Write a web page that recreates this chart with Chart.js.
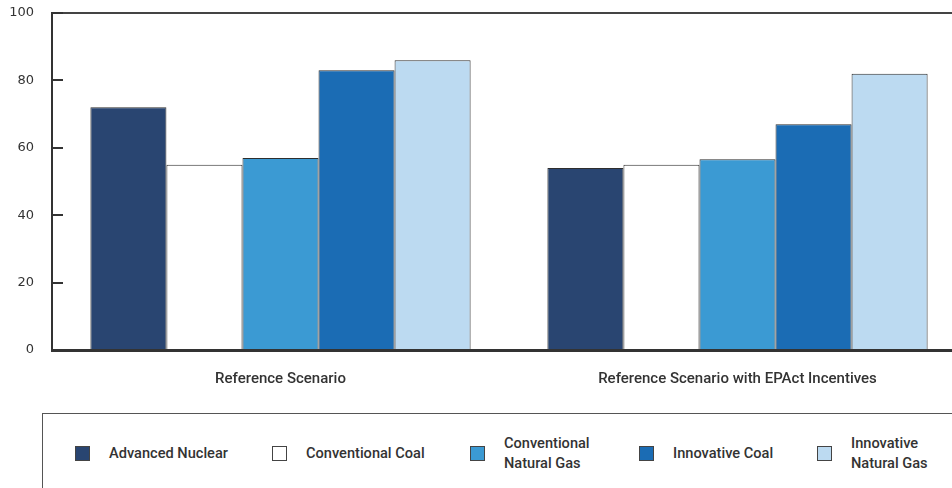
<!DOCTYPE html>
<html>
<head>
<meta charset="utf-8">
<script src="https://cdn.jsdelivr.net/npm/chart.js@4"></script>
<style>
  html, body { margin: 0; padding: 0; background: #fff; }
  .wrap { position: relative; width: 952px; height: 488px; overflow: hidden; }
  #costChart { position: absolute; left: 0; top: 0; }
  .legend-box {
    position: absolute; left: 42px; top: 413px; width: 1000px; height: 120px;
    border-top: 1px solid #555; border-left: 1px solid #555;
  }
  .legend-item { position: absolute; top: 0; height: 78px; display: flex; align-items: center; }
  .swatch { width: 13px; height: 13px; border: 1px solid #444; margin-right: 19px; }
  .legend-text {
    font-family: Roboto, sans-serif; font-weight: 500; font-size: 14.6px;
    line-height: 20px; color: #333;
  }
</style>
</head>
<body>
<div class="wrap">
  <canvas id="costChart" width="975" height="400"></canvas>
  <div class="legend-box" id="legend"></div>
</div>
<script>
const scenarios = ["Reference Scenario", "Reference Scenario with EPAct Incentives"];
const seriesNames = [
  ["Advanced Nuclear"],
  ["Conventional Coal"],
  ["Conventional", "Natural Gas"],
  ["Innovative Coal"],
  ["Innovative", "Natural Gas"]
];
const advancedNuclear = [72, 54];
const conventionalCoal = [55, 55];
const conventionalGas = [57, 56.6];
const innovativeCoal = [83, 67];
const innovativeGas = [86, 82];
const yTicks = [0, 20, 40, 60, 80, 100];

const seriesValues = [advancedNuclear, conventionalCoal, conventionalGas, innovativeCoal, innovativeGas];
const seriesColors = ["#294571", "#ffffff", "#3b9ad3", "#1b6cb4", "#bcdaf1"];
// left offsets of the legend entries inside the box
const legendLeft = [32, 229, 427, 596, 774];

// short tick marks drawn inside the plot, to the right of the y axis
const innerTicks = {
  id: "innerTicks",
  afterDraw(chart) {
    const { ctx, chartArea, scales } = chart;
    ctx.save();
    ctx.strokeStyle = "#333";
    ctx.lineWidth = 2;
    scales.y.ticks.forEach(t => {
      const y = Math.round(scales.y.getPixelForValue(t.value));
      ctx.beginPath();
      ctx.moveTo(chartArea.left, y);
      ctx.lineTo(chartArea.left + 11, y);
      ctx.stroke();
    });
    ctx.restore();
  }
};

new Chart(document.getElementById("costChart"), {
  type: "bar",
  data: {
    labels: scenarios,
    datasets: seriesNames.map((name, i) => ({
      label: name.join(" "),
      data: seriesValues[i],
      backgroundColor: seriesColors[i],
      borderColor: "#2e2e2e",
      borderWidth: 1,
      barPercentage: 1,
      categoryPercentage: 0.832
    }))
  },
  options: {
    responsive: false,
    animation: false,
    layout: { padding: { left: 0, right: 9, top: 13, bottom: 0 } },
    plugins: { legend: { display: false }, tooltip: { enabled: false } },
    scales: {
      x: {
        grid: { display: false, drawTicks: false },
        border: { color: "#333", width: 3 },
        ticks: {
          padding: 20,
          color: "#333",
          font: { family: "Roboto", weight: "500", size: 15 }
        },
        afterFit: s => { s.height = 50; }
      },
      y: {
        min: 0,
        max: 100,
        afterBuildTicks: s => { s.ticks = yTicks.map(v => ({ value: v })); },
        grid: {
          drawTicks: false,
          lineWidth: 2,
          color: c => (c.tick && c.tick.value === 100 ? "#444" : "rgba(0,0,0,0)")
        },
        border: { color: "#333", width: 2 },
        ticks: {
          padding: 18,
          color: "#333",
          font: { family: "DejaVu Sans", size: 13 }
        },
        afterFit: s => {
          s.width = 52;
          s.paddingTop = 0;
          s.paddingBottom = 0;
        }
      }
    }
  },
  plugins: [innerTicks]
});

const legend = document.getElementById("legend");
seriesNames.forEach((name, i) => {
  const item = document.createElement("div");
  item.className = "legend-item";
  item.style.left = legendLeft[i] + "px";
  const sw = document.createElement("div");
  sw.className = "swatch";
  sw.style.background = seriesColors[i];
  const txt = document.createElement("div");
  txt.className = "legend-text";
  txt.innerHTML = name.join("<br>");
  item.appendChild(sw);
  item.appendChild(txt);
  legend.appendChild(item);
});
</script>
</body>
</html>
